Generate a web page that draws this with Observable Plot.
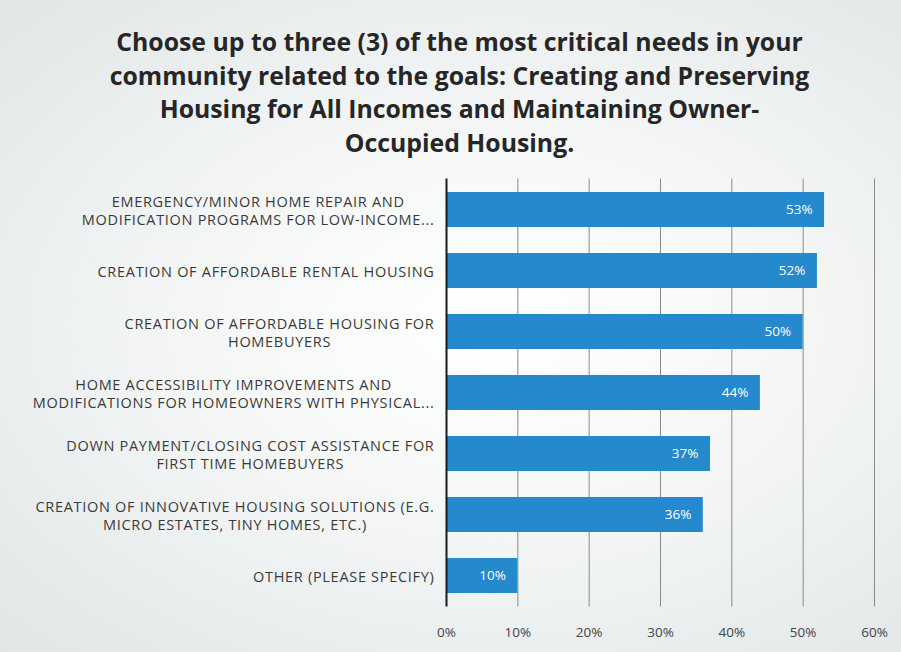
<!DOCTYPE html>
<html>
<head>
<meta charset="utf-8">
<script src="https://cdn.jsdelivr.net/npm/d3@7"></script>
<script src="https://cdn.jsdelivr.net/npm/@observablehq/plot@0.6"></script>
<style>
  html, body { margin: 0; padding: 0; }
  body {
    width: 901px; height: 652px; overflow: hidden;
    background: radial-gradient(ellipse at 55% 50%, #ffffff 0%, #f4f6f6 45%, #e0e5e6 100%);
    font-family: "Open Sans", sans-serif;
  }
  #title {
    box-sizing: border-box;
    height: 165px;
    padding-top: 25px;
    padding-left: 18px;
    text-align: center;
    font-size: 24.8px;
    font-weight: 700;
    line-height: 33.5px;
    color: #262626;
    white-space: nowrap;
  }
  #chart svg { display: block; background: transparent; }
  .cat-label text { letter-spacing: 0.7px; }
</style>
</head>
<body>
<div id="title">Choose up to three (3) of the most critical needs in your<br>community related to the goals: Creating and Preserving<br>Housing for All Incomes and Maintaining Owner-<br>Occupied Housing.</div>
<div id="chart"></div>
<script>
const categories = [
  "EMERGENCY/MINOR HOME REPAIR AND\nMODIFICATION PROGRAMS FOR LOW-INCOME...",
  "CREATION OF AFFORDABLE RENTAL HOUSING",
  "CREATION OF AFFORDABLE HOUSING FOR\nHOMEBUYERS",
  "HOME ACCESSIBILITY IMPROVEMENTS AND\nMODIFICATIONS FOR HOMEOWNERS WITH PHYSICAL...",
  "DOWN PAYMENT/CLOSING COST ASSISTANCE FOR\nFIRST TIME HOMEBUYERS",
  "CREATION OF INNOVATIVE HOUSING SOLUTIONS (E.G.\nMICRO ESTATES, TINY HOMES, ETC.)",
  "OTHER (PLEASE SPECIFY)"
];
const values = [53, 52, 50, 44, 37, 36, 10];
const xTicks = [0, 10, 20, 30, 40, 50, 60];

const data = categories.map((c, i) => ({category: c, value: values[i]}));

const labelSize = 14.5;
const labelSpacing = 0.7;
const canvas = document.createElement("canvas");
const ctx = canvas.getContext("2d");
ctx.font = labelSize + "px 'Open Sans'";
const blockWidth = c => Math.max(...c.split("\n").map(s => ctx.measureText(s).width + labelSpacing * s.length));

const labelMarks = categories.map(c =>
  Plot.text([c], {
    x: () => 0,
    y: d => d,
    text: d => d,
    textAnchor: "middle",
    lineAnchor: "middle",
    lineHeight: 1.24,
    dx: -(12 + blockWidth(c) / 2),
    fill: "#3a3a3a",
    fontSize: labelSize,
    fontFamily: "Open Sans",
    className: "cat-label"
  })
);

const chart = Plot.plot({
  width: 901,
  height: 487,
  marginLeft: 446,
  marginRight: 27,
  marginTop: 13.5,
  marginBottom: 45.5,
  style: {background: "transparent", fontFamily: "Open Sans"},
  x: {domain: [0, 60], ticks: xTicks, axis: null},
  y: {domain: categories, paddingInner: 0.43, paddingOuter: 0.215, axis: null},
  marks: [
    Plot.gridX(xTicks.filter(t => t > 0), {stroke: "#8a8a8a", strokeOpacity: 1, strokeWidth: 1}),
    Plot.barX(data, {x: "value", y: "category", fill: "#2489cd"}),
    Plot.text(data, {
      x: "value", y: "category", text: d => d.value + "%",
      textAnchor: "end", dx: -12, fill: "white", fontSize: 13.5, fontFamily: "Open Sans"
    }),
    Plot.ruleX([0], {stroke: "#1a1a1a", strokeWidth: 2}),
    Plot.axisX({ticks: xTicks, tickSize: 0, tickPadding: 20, tickFormat: d => d + "%", label: null, fontSize: 13.5, fill: "#444", fontFamily: "Open Sans"}),
    ...labelMarks
  ]
});
document.getElementById("chart").appendChild(chart);
</script>
</body>
</html>
